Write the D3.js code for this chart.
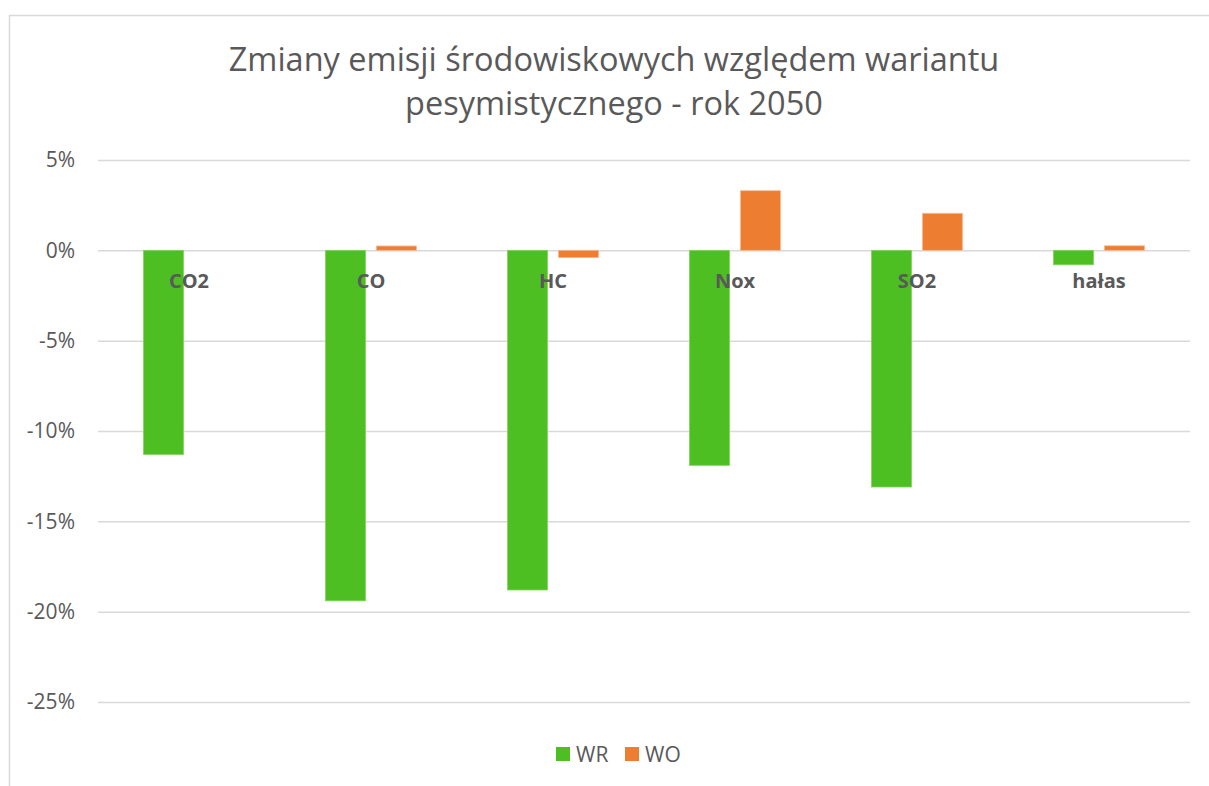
<!DOCTYPE html>
<html>
<head>
<meta charset="utf-8">
<script src="https://cdn.jsdelivr.net/npm/d3@7"></script>
<style>
  html, body { margin: 0; padding: 0; background: #ffffff; }
  svg { display: block; }
  text { font-family: "Open Sans", "DejaVu Sans", sans-serif; }
</style>
</head>
<body>
<svg id="chart" width="1209" height="786"></svg>
<script>
// Emission changes (%) relative to the pessimistic variant, year 2050
const categories = ["CO2", "CO", "HC", "Nox", "SO2", "hałas"];
const seriesNames = ["WR", "WO"];
const valuesWR = [-11.3, -19.4, -18.8, -11.9, -13.1, -0.8];
const valuesWO = [0.0, 0.24, -0.4, 3.3, 2.05, 0.25];
const tickValues = [5, 0, -5, -10, -15, -20, -25];
const titleLines = ["Zmiany emisji środowiskowych względem wariantu", "pesymistycznego - rok 2050"];

const colors = { WR: "#4EBF22", WO: "#ED7D31" };
const strokes = { WR: "#7ED65A", WO: "#F6B98F" };

const rows = categories.map((c, i) => ({ cat: c, WR: valuesWR[i], WO: valuesWO[i] }));

const svg = d3.select("#chart");

// chart frame
svg.append("rect")
  .attr("x", 9.5).attr("y", 15.5)
  .attr("width", 1250).attr("height", 900)
  .attr("fill", "#fff").attr("stroke", "#D9D9D9").attr("stroke-width", 1.5);

const plot = { left: 98, right: 1190, top: 160, bottom: 702 };

const y = d3.scaleLinear().domain([-25, 5]).range([plot.bottom, plot.top]);
const x0 = d3.scaleBand().domain(categories).range([plot.left, plot.right])
  .paddingInner(0.5).paddingOuter(0.25);
const x1 = d3.scaleBand().domain(seriesNames).range([0, x0.bandwidth()])
  .paddingInner(0.216).paddingOuter(0);

// title
svg.append("g").selectAll("text").data(titleLines).join("text")
  .attr("x", 614).attr("y", (d, i) => 71 + i * 44)
  .attr("text-anchor", "middle")
  .attr("font-size", 32.5)
  .attr("fill", "#595959")
  .text(d => d);

// gridlines + y axis labels
const yAxis = d3.axisLeft(y).tickValues(tickValues)
  .tickSize(-(plot.right - plot.left)).tickPadding(23)
  .tickFormat(d => d + "%");
const gy = svg.append("g").attr("transform", `translate(${plot.left},0)`).call(yAxis);
gy.select(".domain").remove();
gy.selectAll(".tick line").attr("stroke", "#D9D9D9").attr("stroke-width", 1.5);
gy.selectAll(".tick text").attr("fill", "#595959").attr("font-size", 21)
  .attr("font-family", "'Open Sans', sans-serif");

// bars
const groups = svg.append("g").selectAll("g").data(rows).join("g")
  .attr("transform", d => `translate(${x0(d.cat)},0)`);
groups.selectAll("rect")
  .data(d => seriesNames.map(k => ({ key: k, value: d[k] })))
  .join("rect")
  .attr("x", d => x1(d.key))
  .attr("width", x1.bandwidth())
  .attr("y", d => y(Math.max(0, d.value)))
  .attr("height", d => Math.abs(y(d.value) - y(0)))
  .attr("fill", d => colors[d.key])
  .attr("stroke", d => d.value === 0 ? "none" : strokes[d.key])
  .attr("stroke-width", 0.8);

// category labels just below the zero line
const xAxis = d3.axisBottom(x0).tickSize(0).tickPadding(23.5);
const gx = svg.append("g").attr("transform", `translate(0,${y(0)})`).call(xAxis);
gx.select(".domain").remove();
gx.selectAll(".tick text").attr("fill", "#595959").attr("font-size", 20)
  .attr("font-weight", "bold").attr("font-family", "'Open Sans', sans-serif");

// legend
const legend = svg.append("g").attr("transform", "translate(556,747)");
const items = [{ key: "WR", x: 0 }, { key: "WO", x: 69 }];
const li = legend.selectAll("g").data(items).join("g")
  .attr("transform", d => `translate(${d.x},0)`);
li.append("rect").attr("width", 14).attr("height", 14).attr("fill", d => colors[d.key]);
li.append("text").attr("x", 20).attr("y", 14.5)
  .attr("font-size", 21).attr("fill", "#595959").text(d => d.key);
</script>
</body>
</html>
